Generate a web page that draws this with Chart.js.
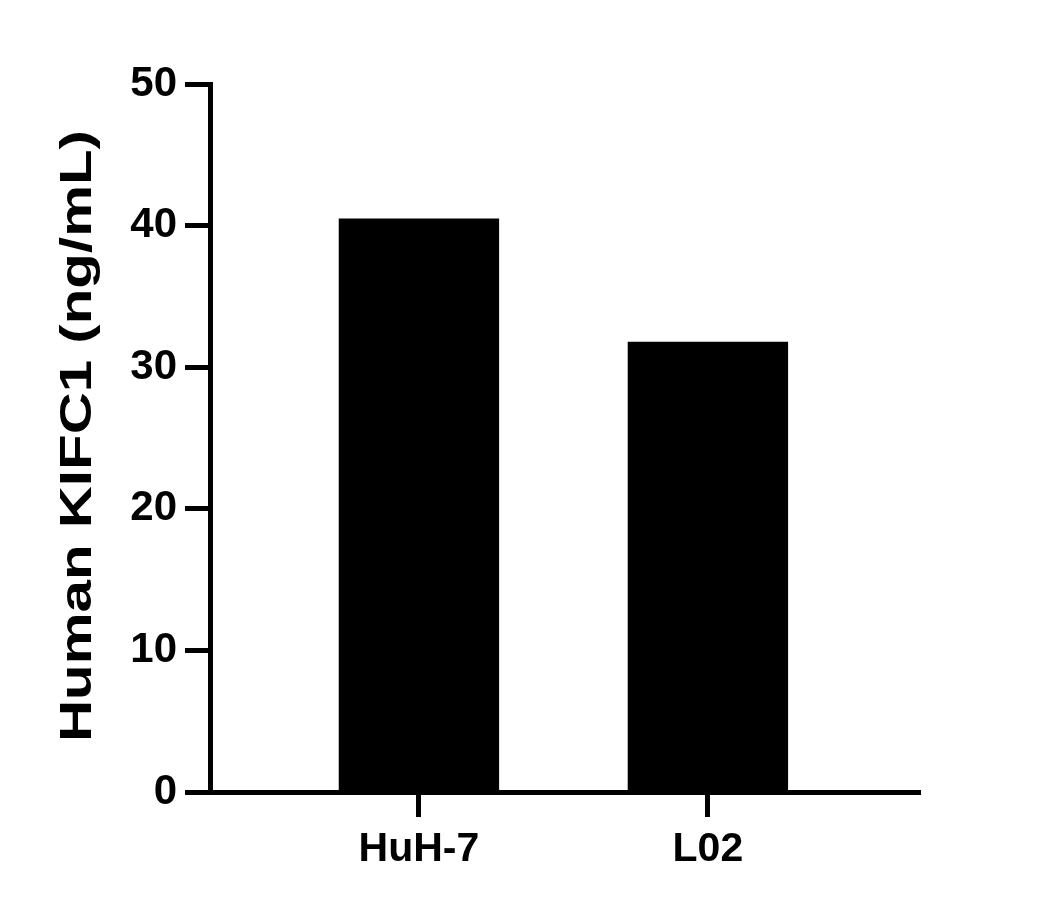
<!DOCTYPE html>
<html>
<head>
<meta charset="utf-8">
<script src="https://cdn.jsdelivr.net/npm/chart.js@4.4.1/dist/chart.umd.min.js"></script>
<style>
  html, body { margin: 0; padding: 0; background: #fff; }
  canvas { display: block; }
</style>
</head>
<body>
<canvas id="c" width="1052" height="909"></canvas>
<script>
const categories = ['HuH-7', 'L02'];
const values = [40.5, 31.8];
const yTicks = [0, 10, 20, 30, 40, 50];
const yTitle = 'Human KIFC1 (ng/mL)';

const FONT = 'Liberation Sans, Arial, Helvetica, sans-serif';

const yTitlePlugin = {
  id: 'yTitlePlugin',
  afterDraw(chart) {
    const ctx = chart.ctx;
    const area = chart.chartArea;
    ctx.save();
    ctx.font = 'bold 45px ' + FONT;
    const w = ctx.measureText(yTitle).width;
    const target = 612;
    ctx.translate(91, (area.top + area.bottom) / 2 - 2);
    ctx.rotate(-Math.PI / 2);
    ctx.scale(target / w, 1);
    ctx.fillStyle = '#000';
    ctx.textAlign = 'center';
    ctx.textBaseline = 'alphabetic';
    ctx.fillText(yTitle, 0, 0);
    ctx.restore();
  }
};

new Chart(document.getElementById('c'), {
  type: 'bar',
  data: {
    datasets: [{
      data: categories.map((c, i) => ({ x: i, y: values[i] })),
      backgroundColor: '#000',
      borderWidth: 0,
      categoryPercentage: 1,
      barPercentage: 0.555
    }]
  },
  plugins: [yTitlePlugin],
  options: {
    responsive: false,
    animation: false,
    events: [],
    layout: { padding: { top: 84, right: 132, left: 0, bottom: 0 } },
    plugins: { legend: { display: false }, tooltip: { enabled: false } },
    scales: {
      x: {
        type: 'linear',
        offset: false,
        min: -0.723,
        max: 1.734,
        afterBuildTicks(scale) { scale.ticks = categories.map((c, i) => ({ value: i })); },
        afterFit(scale) { scale.height = 117; },
        border: { display: true, color: '#000', width: 5 },
        grid: { display: true, offset: false, drawOnChartArea: false, drawTicks: true, tickLength: 25, tickWidth: 5, tickColor: '#000', color: '#000' },
        ticks: {
          autoSkip: false,
          maxRotation: 0,
          padding: 8,
          color: '#000',
          font: { family: FONT, size: 41, weight: 'bold' },
          callback: (v) => categories[v]
        }
      },
      y: {
        min: 0,
        max: 50,
        afterBuildTicks(scale) { scale.ticks = yTicks.map(v => ({ value: v })); },
        afterFit(scale) { scale.width = 210; },
        border: { display: true, color: '#000', width: 5 },
        grid: { display: true, drawOnChartArea: false, drawTicks: true, tickLength: 25, tickWidth: 5, tickColor: '#000', color: '#000' },
        ticks: {
          padding: 8,
          color: '#000',
          font: { family: FONT, size: 42, weight: 'bold' }
        }
      }
    }
  }
});
</script>
</body>
</html>
